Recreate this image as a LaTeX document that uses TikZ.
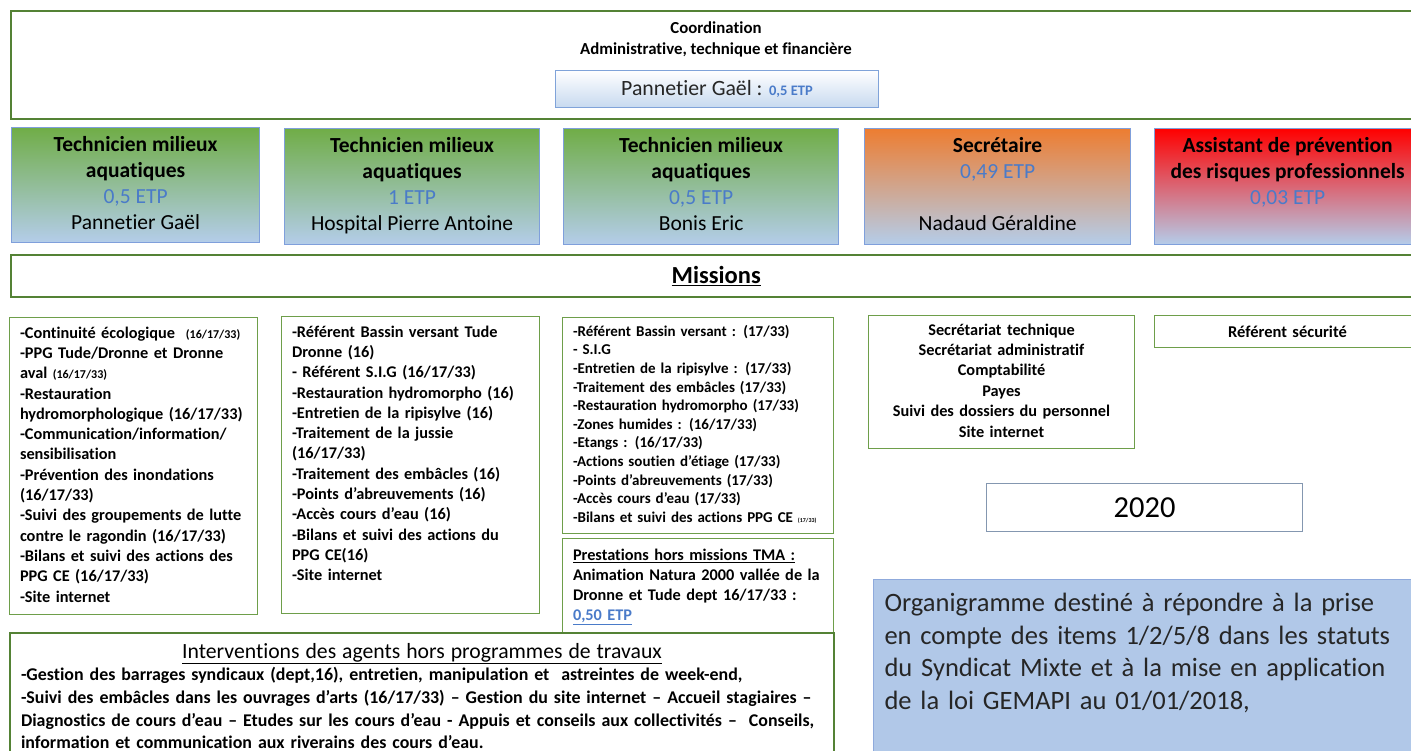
\documentclass[tikz,border=0pt]{standalone}
\usepackage{fontspec}
\setmainfont{Carlito}[Ligatures=NoCommon]
\usepackage{xcolor}
\usepackage{tikz}

\definecolor{frameGreen}{HTML}{548235}
\definecolor{missionGreen}{HTML}{6E9E4A}
\definecolor{headBlue}{HTML}{7F9FDB}
\definecolor{etpBlue}{HTML}{4A7BC9}
\definecolor{paleBlue}{HTML}{B4CDEA}
\definecolor{techGreen}{HTML}{70AD47}
\definecolor{secOrange}{HTML}{ED7D31}
\definecolor{riskRed}{HTML}{FF0000}
\definecolor{noteBlue}{HTML}{B1C8E8}
\definecolor{noteEdge}{HTML}{8FAADC}
\definecolor{yearEdge}{HTML}{8497B0}
\definecolor{inkGray}{HTML}{262626}

\newcommand{\etp}[1]{\textcolor{etpBlue}{#1}}
\newcommand{\petit}[1]{{\fontsize{12}{12}\selectfont #1}}

\begin{document}
\begin{tikzpicture}[x=1pt, y=-1pt,
    every node/.style={inner sep=0pt},
    wide/.style={draw=frameGreen, line width=2.4pt, anchor=north west},
    head/.style={draw=headBlue, line width=1.2pt, anchor=north west, align=center,
        bottom color=paleBlue, font=\fontsize{21.5}{26}\selectfont},
    mission/.style={draw=missionGreen, line width=1pt, anchor=north west, inner xsep=10.5pt,
        align=left, font=\fontsize{16.3}{20.3}\selectfont\bfseries}]
    \useasboundingbox (0,0) rectangle (1411,751);
    \clip (0,0) rectangle (1411,751);

    % coordination
    \node[wide, minimum width=1410, minimum height=108] (coord) at (10,10) {};
    \node[align=center, font=\fontsize{16.8}{21}\selectfont\bfseries] (coordtxt) at (716,39)
        {Coordination\\Administrative, technique et financière};
    \node[anchor=north west, draw=etpBlue!70, line width=1pt, top color=white, bottom color=paleBlue!75,
        minimum width=323, minimum height=37, font=\fontsize{21.8}{24}\selectfont, text=inkGray] (pannetier) at (555,70)
        {Pannetier Gaël : {\fontsize{14.5}{16}\selectfont\bfseries\etp{0,5 ETP}}};

    % postes
    \node[head, top color=techGreen, minimum width=248, minimum height=115] (tech1) at (11,127)
        {\strut\textbf{Technicien milieux}\\\textbf{aquatiques}\\\etp{0,5 ETP}\\Pannetier Gaël\strut};
    \node[head, top color=techGreen, minimum width=255, minimum height=116] (tech2) at (284,128)
        {\strut\textbf{Technicien milieux}\\\textbf{aquatiques}\\\etp{1 ETP}\\Hospital Pierre Antoine\strut};
    \node[head, top color=techGreen, minimum width=275, minimum height=116] (tech3) at (563,128)
        {\strut\textbf{Technicien milieux}\\\textbf{aquatiques}\\\etp{0,5 ETP}\\Bonis Eric\strut};
    \node[head, top color=secOrange, minimum width=266, minimum height=116] (secr) at (864,128)
        {\strut\textbf{Secrétaire}\\\etp{0,49 ETP}\\\mbox{}\\Nadaud Géraldine\strut};
    \node[head, top color=riskRed, minimum width=266, minimum height=116] (risk) at (1154,128)
        {\strut\textbf{Assistant de prévention}\\\textbf{des risques professionnels}\\\etp{0,03 ETP}\\\strut};

    \node[wide, minimum width=1410, minimum height=42, font=\fontsize{24.5}{26}\selectfont\bfseries] (missions) at (10,254)
        {\raisebox{-2pt}{\underline{Missions}}};

    % missions
    \node[mission, text width=227, minimum height=297] (missA) at (9,317)
        {\strut-Continuité écologique \ \petit{(16/17/33)}\\
         -PPG Tude/Dronne et Dronne\\
         aval \petit{(16/17/33)}\\
         -Restauration\\
         hydromorphologique (16/17/33)\\
         -Communication/information/\\
         sensibilisation\\
         -Prévention des inondations\\
         (16/17/33)\\
         -Suivi des groupements de lutte\\
         contre le ragondin (16/17/33)\\
         -Bilans et suivi des actions des\\
         PPG CE (16/17/33)\\
         -Site internet\strut};
    \node[mission, text width=237, minimum height=297] (missB) at (281,316)
        {\strut-Référent Bassin versant Tude\\
         Dronne (16)\\
         - Référent S.I.G (16/17/33)\\
         -Restauration hydromorpho (16)\\
         -Entretien de la ripisylve (16)\\
         -Traitement de la jussie\\
         (16/17/33)\\
         -Traitement des embâcles (16)\\
         -Points d’abreuvements (16)\\
         -Accès cours d’eau (16)\\
         -Bilans et suivi des actions du\\
         PPG CE(16)\\
         -Site internet\\
         \strut};
    \node[mission, text width=250, minimum height=216, font=\fontsize{15}{18.6}\selectfont\bfseries] (missC) at (562,317)
        {\strut-Référent Bassin versant : (17/33)\\
         - S.I.G\\
         -Entretien de la ripisylve : (17/33)\\
         -Traitement des embâcles (17/33)\\
         -Restauration hydromorpho (17/33)\\
         -Zones humides : (16/17/33)\\
         -Etangs : (16/17/33)\\
         -Actions soutien d’étiage (17/33)\\
         -Points d’abreuvements (17/33)\\
         -Accès cours d’eau (17/33)\\
         -Bilans et suivi des actions PPG CE {\fontsize{6}{7}\selectfont(17/33)}\strut};
    \node[mission, text width=250, minimum height=96, font=\fontsize{16.3}{20}\selectfont\bfseries] (presta) at (562,538)
        {\strut\underline{Prestations hors missions TMA :}\\
         Animation Natura 2000 vallée de la\\
         Dronne et Tude dept 16/17/33 :\\
         \etp{\underline{0,50 ETP}}\strut};

    \node[mission, text width=245, minimum height=133, align=center, font=\fontsize{16.3}{20.4}\selectfont\bfseries] (secrtasks) at (868,315)
        {\strut Secrétariat technique\\Secrétariat administratif\\Comptabilité\\Payes\\Suivi des dossiers du personnel\\Site internet\strut};
    \node[mission, text width=245, minimum height=32, align=center, font=\fontsize{16.5}{18}\selectfont\bfseries] (secu) at (1154,315)
        {Référent sécurité};

    % annee et note
    \node[anchor=north west, draw=yearEdge, line width=1.2pt, minimum width=316, minimum height=48,
        font=\fontsize{30.5}{32}\selectfont] (year) at (986,483) {2020};
    \node[anchor=north west, draw=noteEdge, line width=1pt, fill=noteBlue, inner xsep=11pt, text width=525,
        minimum height=181, align=left, text=inkGray, font=\fontsize{26.5}{32.5}\selectfont] (note) at (873,579)
        {\strut Organigramme destiné à répondre à la prise\\
         en compte des items 1/2/5/8 dans les statuts\\
         du Syndicat Mixte et à la mise en application\\
         de la loi GEMAPI au 01/01/2018,\\
         \strut};

    % interventions
    \node[anchor=north west, draw=frameGreen, line width=2pt, fill=white, inner xsep=11pt, text width=802,
        minimum height=132, align=left, font=\fontsize{17.9}{22.6}\selectfont\bfseries] (interv) at (9,632)
        {\strut\makebox[\hsize]{\fontsize{21.7}{24}\mdseries\selectfont\underline{Interventions des agents hors programmes de travaux}}\\
         -Gestion des barrages syndicaux (dept,16), entretien, manipulation et \ astreintes de week-end,\\
         -Suivi des embâcles dans les ouvrages d’arts (16/17/33) – Gestion du site internet – Accueil stagiaires –\\
         Diagnostics de cours d’eau – Etudes sur les cours d’eau - Appuis et conseils aux collectivités – \ Conseils,\\
         information et communication aux riverains des cours d’eau.\strut};
\end{tikzpicture}
\end{document}
